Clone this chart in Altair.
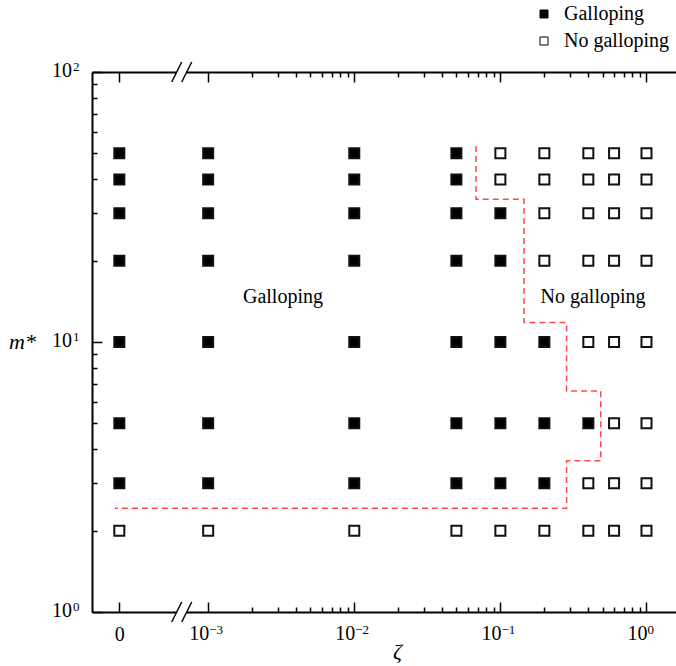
import math

import altair as alt
import pandas as pd

# ---- data -------------------------------------------------------------
zeta_values = [0, 0.001, 0.01, 0.05, 0.1, 0.2, 0.4, 0.6, 1.0]
mass_ratios = [50, 40, 30, 20, 10, 5, 3, 2]
# number of leading damping-ratio columns (from zeta = 0 upward) that gallop
galloping_columns = [4, 4, 5, 5, 6, 7, 6, 0]

# stability boundary, given as (log10 zeta on the broken axis, m*)
boundary_logzeta = [-1.167, -1.167, -0.838, -0.838, -0.547, -0.547,
                    -0.313, -0.313, -0.547, -0.547, -3.638]
boundary_mass = [53.2, 33.8, 33.8, 11.8, 11.8, 6.59, 6.59,
                 3.63, 3.63, 2.42, 2.42]

region_labels = ["Galloping", "No galloping"]
region_logzeta = [-2.488, -0.366]
region_mass = [14.7, 14.7]

# decade tick labels, written as "10" plus a raised exponent
x_decades = [-3, -2, -1, 0]
x_exponents = ["−3", "−2", "−1", "0"]
y_decades = [1, 10, 100]
y_exponents = ["0", "1", "2"]

# ---- broken log axis for zeta ------------------------------------------
ZERO_POS = -3.608          # where zeta = 0 sits on the log10 axis
X_DOMAIN = [-3.795, 0.202]
Y_DOMAIN = [1, 100]
BREAK_POS = -3.181         # centre of the "//" axis break

x_major = [ZERO_POS] + x_decades
x_minor = [math.log10(k * 10.0 ** e) for e in (-3, -2, -1) for k in range(2, 10)]
y_minor = [k * 10 ** e for e in (0, 1) for k in range(2, 10)]


def to_axis(z):
    return ZERO_POS if z == 0 else math.log10(z)


rows = []
for m, n_gal in zip(mass_ratios, galloping_columns):
    for j, z in enumerate(zeta_values):
        rows.append({"u": to_axis(z), "m": m,
                     "state": "Galloping" if j < n_gal else "No galloping"})
points = pd.DataFrame(rows)

boundary = pd.DataFrame({"u": boundary_logzeta, "m": boundary_mass,
                         "idx": list(range(len(boundary_mass)))})
regions = pd.DataFrame({"u": region_logzeta, "m": region_mass,
                        "label": region_labels})
x_labels = pd.DataFrame({"u": x_decades, "base": "10", "exp": x_exponents})
y_labels = pd.DataFrame({"m": y_decades, "base": "10", "exp": y_exponents})

# the two slanted strokes of each break, plus the gap cut out of the frame
half = 10 / 270            # ten pixels expressed in decades of m*
slash_w = 0.0684
breaks = pd.DataFrame([
    {"u0": BREAK_POS - slash_w + d, "u1": BREAK_POS + d,
     "m0": edge * 10 ** -half, "m1": edge * 10 ** half}
    for edge in Y_DOMAIN for d in (0, slash_w)
])
gaps = pd.DataFrame([
    {"u0": BREAK_POS - slash_w / 2, "u1": BREAK_POS + slash_w / 2,
     "m0": edge * 10 ** (-3 / 270), "m1": edge * 10 ** (3 / 270)}
    for edge in Y_DOMAIN
])

FONT = "Liberation Serif"
xscale = alt.Scale(domain=X_DOMAIN, zero=False, nice=False)
yscale = alt.Scale(type="log", domain=Y_DOMAIN, nice=False)

common = dict(grid=False, tickColor="black", tickWidth=1.5, domainColor="black",
              domainWidth=2, labelFont=FONT, labelFontSize=20, labelColor="black",
              labelFlush=False, labelOverlap=False, titleFont=FONT)

x_axes = [
    alt.Axis(orient="bottom", domain=True, ticks=False, labels=False,
             title="ζ", titleFontSize=22, titleFontStyle="italic",
             titleFontWeight="normal", titleColor="black", titleX=305, titleY=46,
             titleAlign="center", titleBaseline="alphabetic", **common),
    # major ticks; only the zero position carries an axis label here
    alt.Axis(orient="bottom", offset=-10, domain=False, tickSize=10,
             values=x_major, labelPadding=12,
             labelExpr=f"abs(datum.value - ({ZERO_POS})) < 0.01 ? '0' : ''",
             title="", **common),
    alt.Axis(orient="bottom", offset=-5, domain=False, tickSize=5,
             values=x_minor, labels=False, title="", **common),
    alt.Axis(orient="top", domain=True, ticks=False, labels=False, title="", **common),
    alt.Axis(orient="top", offset=-10, domain=False, tickSize=10,
             values=x_major, labels=False, title="", **common),
    alt.Axis(orient="top", offset=-5, domain=False, tickSize=5,
             values=x_minor, labels=False, title="", **common),
]
y_axes = [
    alt.Axis(orient="left", domain=True, ticks=False, labels=False,
             title="m*", titleFontSize=22, titleFontStyle="italic",
             titleFontWeight="normal", titleColor="black", titleAngle=0,
             titleX=-70, titleY=276, titleAlign="center",
             titleBaseline="alphabetic", **common),
    alt.Axis(orient="left", offset=-10, domain=False, tickSize=10,
             values=y_decades, labels=False, title="", **common),
    alt.Axis(orient="left", offset=-5, domain=False, tickSize=5,
             values=y_minor, labels=False, title="", **common),
]

axis_layers = []
for i, xa in enumerate(x_axes):
    ya = y_axes[i] if i < len(y_axes) else None
    y_enc = (alt.Y("m:Q", scale=yscale, axis=ya) if ya is not None
             else alt.Y("m:Q", scale=yscale, axis=None))
    axis_layers.append(
        alt.Chart(points).mark_point(opacity=0).encode(
            x=alt.X("u:Q", scale=xscale, axis=xa), y=y_enc)
    )

# power-of-ten tick labels: "10" with a smaller raised exponent
x_base = alt.Chart(x_labels).mark_text(
    font=FONT, fontSize=20, color="black", align="right", baseline="alphabetic", dx=1
).encode(
    x=alt.X("u:Q", scale=xscale, axis=None), y=alt.value(568), text="base:N"
)
x_exp = alt.Chart(x_labels).mark_text(
    font=FONT, fontSize=13, color="black", align="left", baseline="alphabetic", dx=1
).encode(
    x=alt.X("u:Q", scale=xscale, axis=None), y=alt.value(562), text="exp:N"
)
y_base = alt.Chart(y_labels).mark_text(
    font=FONT, fontSize=20, color="black", align="right", baseline="alphabetic", dy=5
).encode(
    x=alt.value(-20), y=alt.Y("m:Q", scale=yscale, axis=None), text="base:N"
)
y_exp = alt.Chart(y_labels).mark_text(
    font=FONT, fontSize=13, color="black", align="left", baseline="alphabetic", dy=-1
).encode(
    x=alt.value(-19), y=alt.Y("m:Q", scale=yscale, axis=None), text="exp:N"
)

boundary_line = alt.Chart(boundary).mark_line(
    color="#ff4a4a", strokeDash=[6, 4], strokeWidth=1.5
).encode(
    x=alt.X("u:Q", scale=xscale, axis=None),
    y=alt.Y("m:Q", scale=yscale, axis=None),
    order="idx:Q",
)

markers = alt.Chart(points).mark_square(
    size=100, stroke="#111111", strokeWidth=2, opacity=1, filled=True
).encode(
    x=alt.X("u:Q", scale=xscale, axis=None),
    y=alt.Y("m:Q", scale=yscale, axis=None),
    fill=alt.Fill(
        "state:N",
        scale=alt.Scale(domain=region_labels, range=["black", "white"]),
        legend=alt.Legend(
            title=None, orient="none", legendX=442, legendY=-68, padding=0,
            symbolType="square", symbolSize=64, symbolStrokeColor="black",
            symbolStrokeWidth=1, labelFont=FONT, labelFontSize=20,
            labelColor="black", labelOffset=10, rowPadding=7, labelLimit=200,
        ),
    ),
)

region_text = alt.Chart(regions).mark_text(
    font=FONT, fontSize=20, color="black"
).encode(
    x=alt.X("u:Q", scale=xscale, axis=None),
    y=alt.Y("m:Q", scale=yscale, axis=None),
    text="label:N",
)

gap_rects = alt.Chart(gaps).mark_rect(color="white").encode(
    x=alt.X("u0:Q", scale=xscale, axis=None), x2="u1:Q",
    y=alt.Y("m0:Q", scale=yscale, axis=None), y2="m1:Q",
)

break_marks = alt.Chart(breaks).mark_rule(color="black", strokeWidth=1.5).encode(
    x=alt.X("u0:Q", scale=xscale, axis=None), x2="u1:Q",
    y=alt.Y("m0:Q", scale=yscale, axis=None), y2="m1:Q",
)

chart = alt.layer(
    *axis_layers, x_base, x_exp, y_base, y_exp,
    boundary_line, markers, region_text, gap_rects, break_marks
).resolve_axis(
    x="independent", y="independent"
).properties(
    width=584, height=540, autosize="none",
    padding={"left": 92, "top": 72, "right": 0, "bottom": 54},
    background="white",
).configure_view(
    stroke=None
).configure_legend(
    labelFont=FONT, labelFontSize=20, labelColor="black"
).configure(
    font=FONT
)

chart.save("out.html", embed_options={"renderer": "svg", "actions": False})
